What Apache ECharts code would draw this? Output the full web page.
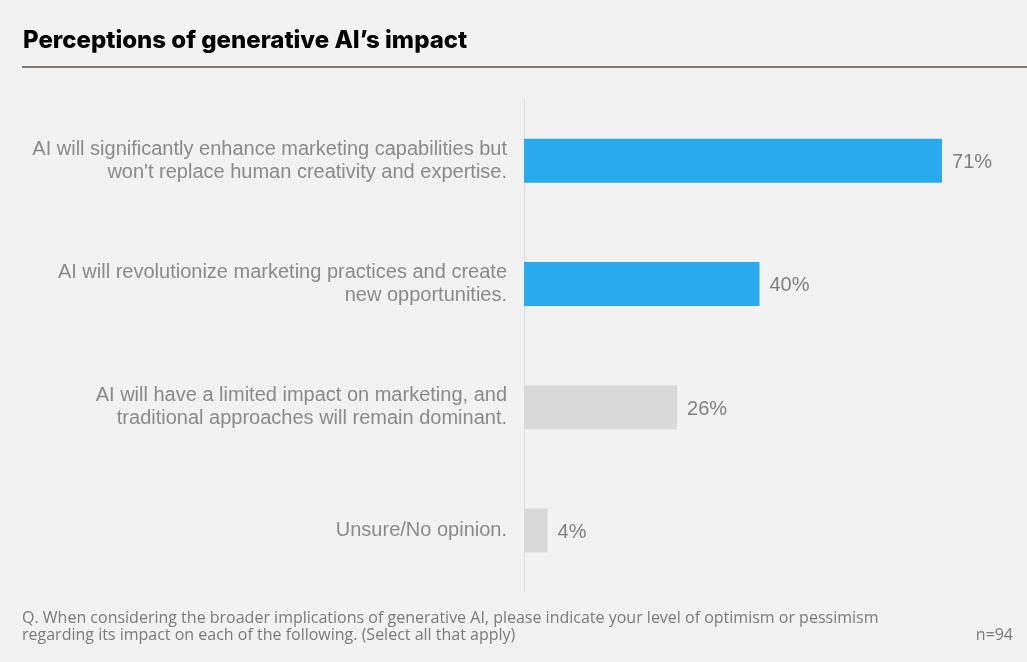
<!DOCTYPE html>
<html><head><meta charset="utf-8">
<script src="https://cdn.jsdelivr.net/npm/echarts@6/dist/echarts.min.js"></script>
<style>html,body{margin:0;padding:0;background:#f2f2f2;}#c{width:1027px;height:662px;}</style>
</head><body><div id="c"></div>
<script>
const categories = [
  "AI will significantly enhance marketing capabilities but\nwon't replace human creativity and expertise.",
  "AI will revolutionize marketing practices and create\nnew opportunities.",
  "AI will have a limited impact on marketing, and\ntraditional approaches will remain dominant.",
  "Unsure/No opinion."
];
const values = [71, 40, 26, 4];
const barColors = ["#29aaef", "#29aaef", "#d9d9d9", "#d9d9d9"];
const titleText = "Perceptions of generative AI\u2019s impact";
const footnote = "Q. When considering the broader implications of generative AI, please indicate your level of optimism or pessimism\nregarding its impact on each of the following. (Select all that apply)";
const sampleText = "n=94";

const chart = echarts.init(document.getElementById('c'));
chart.setOption({
  backgroundColor: '#f2f2f2',
  animation: false,
  title: {
    text: titleText, left: 18, top: 24,
    textStyle: { fontFamily: 'Inter', fontWeight: 800, fontSize: 24, color: '#000' }
  },
  graphic: [
    { type: 'rect', shape: { x: 22, y: 66, width: 1005, height: 2 }, style: { fill: '#847d76' } },
    { type: 'text', left: 22, top: 610, style: { text: footnote, font: '16px "Open Sans"', fill: '#7a7a7a', lineHeight: 17 } },
    { type: 'text', right: 14, top: 627, style: { text: sampleText, font: '16px "Open Sans"', fill: '#7a7a7a' } }
  ],
  grid: { left: 524, right: 32, top: 99, bottom: 70 },
  xAxis: { type: 'value', min: 0, max: 80, show: false },
  yAxis: {
    type: 'category', data: categories, inverse: true,
    axisLine: { show: true, lineStyle: { color: '#dcdcdc', width: 1 } },
    axisTick: { show: false },
    axisLabel: { margin: 17, fontFamily: 'Liberation Sans', fontSize: 20, color: '#8a8a8a', lineHeight: 23, align: 'right', padding: [4, 0, 0, 0] }
  },
  series: [{
    type: 'bar', barWidth: 44,
    data: values.map((v, i) => ({ value: v, itemStyle: { color: barColors[i] } })),
    label: { show: true, position: 'right', distance: 10, offset: [0, 2], formatter: '{c}%', fontFamily: 'Liberation Sans', fontSize: 20, color: '#7f7f7f' }
  }]
});
</script></body></html>
